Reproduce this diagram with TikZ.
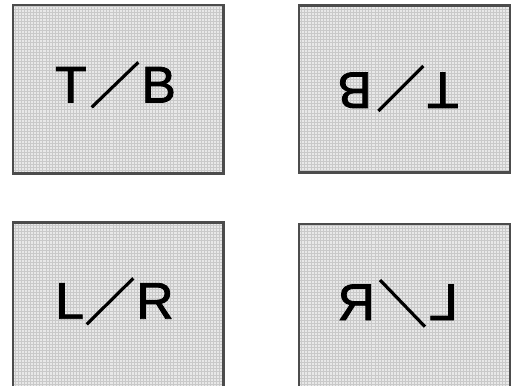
\documentclass[tikz,border=0pt]{standalone}
\usepackage{fontspec}
\setmainfont{Liberation Sans}
\newfontfamily\labelfont[FakeBold=1.6]{Liberation Sans}
\usepackage{tikz}
\usepackage{xcolor}
\begin{document}
\begin{tikzpicture}[x=0.03cm,y=-0.03cm,
  every node/.style={font=\labelfont\fontsize{44}{44}\selectfont,inner sep=0pt,anchor=base},
  boxfill/.style={fill=gray!18},
  boxgrid/.style={draw=gray!42,line width=0.3pt},
  boxframe/.style={draw=black!70,line width=2pt},
  slashline/.style={line width=2.7pt}]
\clip (0,0) rectangle (511,385);
\fill[white] (0,0) rectangle (511,385);
% top left: T/B
\fill[boxfill] (13,5) rectangle (223.5,173.5);
\draw[boxgrid,step=2.6pt] (13,5) grid (223.5,173.5);
\draw[boxframe] (13,5) rectangle (223.5,173.5);
\node (tlT) at (70.8,102.5) {T};
\node (tlB) at (158.7,102.5) {B};
\draw[slashline] (91.7,107.3) -- (138.3,62.3);
% top right: rotated half-turn
\fill[boxfill] (299,5.5) rectangle (510,172.5);
\draw[boxgrid,step=2.6pt] (299,5.5) grid (510,172.5);
\draw[boxframe] (299,5.5) rectangle (510,172.5);
\node[rotate=180] (trB) at (354.7,72.5) {B};
\node[rotate=180] (trT) at (442.8,72.5) {T};
\draw[slashline] (378.3,111) -- (423.3,66);
% bottom left: L/R
\fill[boxfill] (13,222.5) rectangle (223.5,395);
\draw[boxgrid,step=2.6pt] (13,222.5) grid (223.5,395);
\draw[boxframe] (13,222.5) rectangle (223.5,395);
\node (blL) at (69.7,318.7) {L};
\node (blR) at (155,318.7) {R};
\draw[slashline] (86.7,324.3) -- (133.3,278.3);
% bottom right: mirrored
\fill[boxfill] (299,224) rectangle (510,395);
\draw[boxgrid,step=2.6pt] (299,224) grid (510,395);
\draw[boxframe] (299,224) rectangle (510,395);
\node[xscale=-1] (brR) at (356.2,320) {R};
\node[xscale=-1] (brL) at (443.3,320) {L};
\draw[slashline] (380,280) -- (425,326.7);
\end{tikzpicture}
\end{document}
